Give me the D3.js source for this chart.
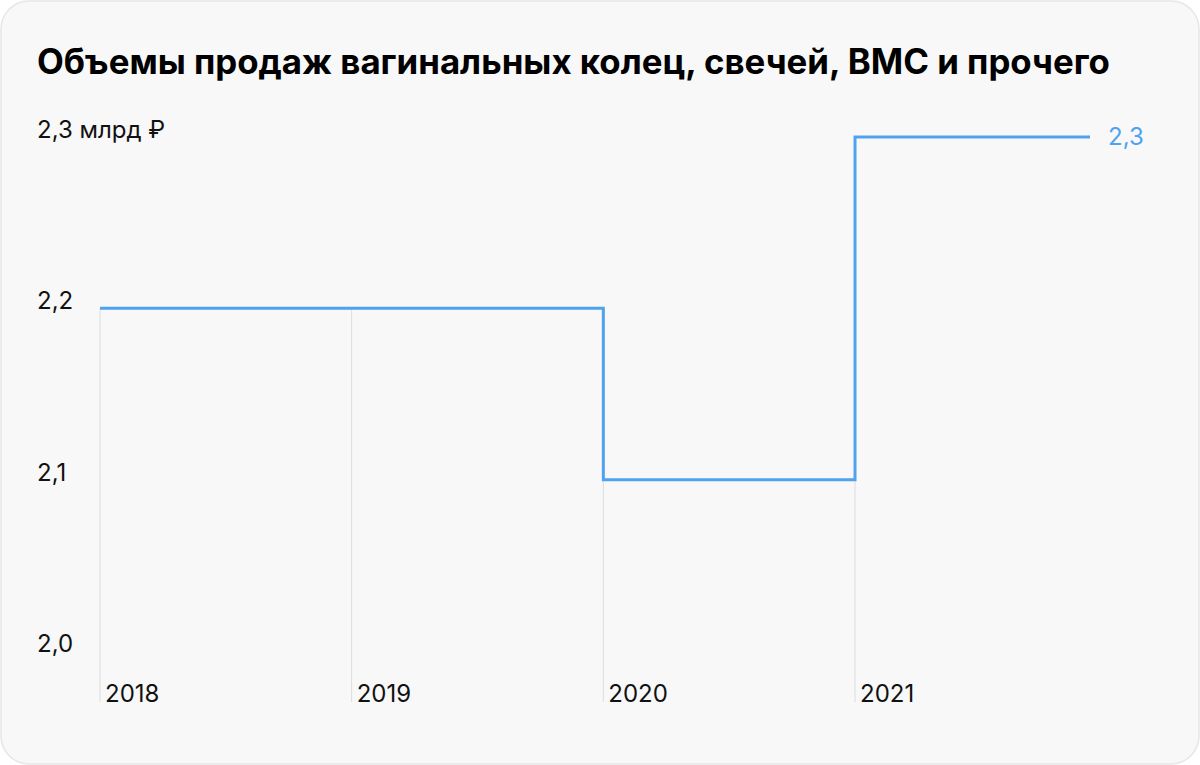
<!DOCTYPE html>
<html><head><meta charset="utf-8">
<script src="https://cdn.jsdelivr.net/npm/d3@7"></script>
<style>html,body{margin:0;padding:0;background:#fff;}svg{display:block;}</style>
</head><body>
<script>
const years = [2018, 2019, 2020, 2021];
const values = [2.2, 2.2, 2.1, 2.3];
const yTicks = [2.0, 2.1, 2.2, 2.3];
const yTickLabels = ["2,0", "2,1", "2,2", "2,3 млрд ₽"];
const lastLabel = "2,3";
const title = "Объемы продаж вагинальных колец, свечей, ВМС и прочего";

const W = 1200, H = 765;
const svg = d3.select("body").append("svg").attr("width", W).attr("height", H);
svg.append("rect").attr("x", 1).attr("y", 1).attr("width", W - 2).attr("height", H - 2)
  .attr("rx", 28).attr("fill", "#f8f8f8").attr("stroke", "#e6e6e6").attr("stroke-width", 1.5);

const font = "Inter, Roboto, 'Noto Sans', sans-serif";
const t = svg.append("text").attr("x", 37).attr("y", 74).text(title)
  .attr("font-family", font).attr("font-weight", 700).attr("font-size", 31).attr("fill", "#000");
const tw = t.node().getComputedTextLength();
t.attr("font-size", 31 * 1073 / tw);

const x = d3.scaleLinear().domain([2018, 2021]).range([100, 855]);
const y = d3.scaleLinear().domain([2.0, 2.3]).range([651, 137]);
const bottom = 702;

// gridlines
svg.append("g").selectAll("line").data(years).join("line")
  .attr("x1", d => x(d)).attr("x2", d => x(d))
  .attr("y1", (d, i) => y(i > 0 ? Math.min(values[i], values[i - 1]) : values[i]))
  .attr("y2", bottom).attr("stroke", "#dcdcdc").attr("stroke-width", 1);

// y labels
svg.append("g").selectAll("text").data(yTicks).join("text")
  .attr("x", 37).attr("y", d => y(d) + 1).text((d, i) => yTickLabels[i])
  .attr("font-family", font).attr("font-size", 24).attr("fill", "#111");

// x labels
svg.append("g").selectAll("text").data(years).join("text")
  .attr("x", d => x(d) + 5).attr("y", bottom).text(d => d)
  .attr("font-family", font).attr("font-size", 24).attr("fill", "#111");

// step line
const pts = years.map((d, i) => [x(d), y(values[i])]);
pts.push([x(2021) + 235, y(values[values.length - 1])]);
const line = d3.line().curve(d3.curveStepAfter);
svg.append("path").attr("d", line(pts)).attr("fill", "none")
  .attr("stroke", "#4ea2ef").attr("stroke-width", 3).attr("stroke-linejoin", "miter");

svg.append("text").attr("x", x(2021) + 253).attr("y", y(values[3]) + 8).text(lastLabel)
  .attr("font-family", font).attr("font-size", 24).attr("fill", "#4ea2ef");
</script>
</body></html>
